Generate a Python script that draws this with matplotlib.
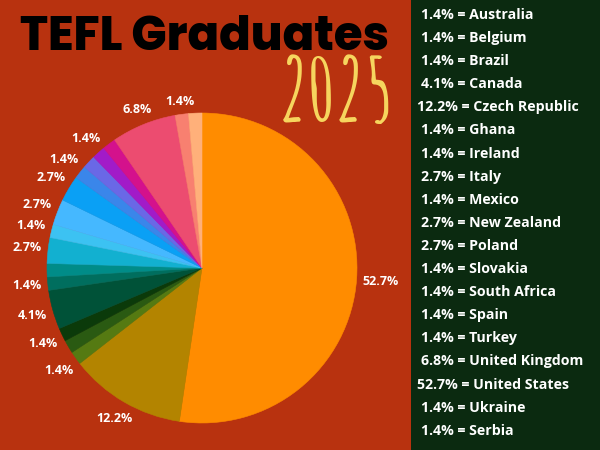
import matplotlib
matplotlib.use("Agg")
import matplotlib.pyplot as plt
import numpy as np

# ---- data ----
countries = ["Australia", "Belgium", "Brazil", "Canada", "Czech Republic", "Ghana",
             "Ireland", "Italy", "Mexico", "New Zealand", "Poland", "Slovakia",
             "South Africa", "Spain", "Turkey", "United Kingdom", "United States",
             "Ukraine", "Serbia"]
shares = [1.4, 1.4, 1.4, 4.1, 12.2, 1.4, 1.4, 2.7, 1.4, 2.7, 2.7, 1.4,
          1.4, 1.4, 1.4, 6.8, 52.7, 1.4, 1.4]

# clockwise order of slices in the pie, starting at 12 o'clock
pie_order = ["United States", "Czech Republic", "Spain", "South Africa", "Ghana",
             "Canada", "Ireland", "Slovakia", "Italy", "Australia", "New Zealand",
             "Poland", "Belgium", "Brazil", "Mexico", "Turkey", "United Kingdom",
             "Ukraine", "Serbia"]
pie_colors = ["#FF8C00", "#B38400", "#557A12", "#2A5A12", "#0B3A0A",
              "#005238", "#006E5E", "#008C88", "#12B0D0", "#3CC2F2",
              "#45B8FF", "#0AA0F5", "#3A86EA", "#6A68E6", "#A21BC8",
              "#D4118C", "#EC4C70", "#F88070", "#FFB07A"]
unlabelled = ["South Africa", "Slovakia", "Brazil", "Turkey", "Serbia"]

title = "TEFL Graduates"
year = "2025"

BG = "#B8320F"
PANEL = "#0B2A10"

fig = plt.figure(figsize=(6, 4.5), dpi=100, facecolor=BG)

# right panel
panel = fig.add_axes([411 / 600, 0, 189 / 600, 1])
panel.set_facecolor(PANEL)
panel.set_xticks([]); panel.set_yticks([])
for s in panel.spines.values():
    s.set_visible(False)

# pie
cx, cy, r = 202, 268, 155
ax = fig.add_axes([(cx - r) / 600, (450 - cy - r) / 450, 2 * r / 600, 2 * r / 450])
vals = [shares[countries.index(c)] for c in pie_order]
wedges, _ = ax.pie(vals, colors=pie_colors, startangle=90, counterclock=False,
                   radius=1.0, wedgeprops=dict(linewidth=0.4))
for w, col in zip(wedges, pie_colors):
    w.set_edgecolor(col)
ax.set_xlim(-1, 1); ax.set_ylim(-1, 1)
ax.set_aspect("equal")
ax.axis("off")

labels = []
for w, c, v in zip(wedges, pie_order, vals):
    if c in unlabelled:
        continue
    th = np.deg2rad((w.theta1 + w.theta2) / 2)
    t = ax.text(0, 0, f"{v}%", ha="center", va="center",
                color="white", fontsize=9, fontweight="bold", family="Open Sans")
    labels.append((t, th))

# place each label just outside the rim, keeping a constant gap to its box
renderer = fig.canvas.get_renderer()
for t, th in labels:
    bb = t.get_window_extent(renderer)
    hw, hh = bb.width / 2, bb.height / 2 * 0.75
    d = (r + 6 + hw * abs(np.cos(th)) + hh * abs(np.sin(th))) / r
    t.set_position((d * np.cos(th), d * np.sin(th)))

# title
fig.text(205 / 600, 1 - 50 / 450, title, ha="center", va="baseline", fontsize=33.5,
         fontweight="heavy", family="Poppins", color="black")
fig.text(336 / 600, 1 - 122 / 450, year, ha="center", va="baseline", fontsize=62,
         family="Amatic SC", fontweight="bold", color="#F6D55E")

# legend list
y0, dy = 15, 23.1
for i, (c, v) in enumerate(zip(countries, shares)):
    x = 417 if v >= 10 else 421
    fig.text(x / 600, 1 - (y0 + i * dy) / 450, f"{v}% = {c}", ha="left", va="center",
             color="white", fontsize=10.2, fontweight="bold", family="Open Sans")

fig.savefig("out.png", dpi=100, facecolor=BG)
